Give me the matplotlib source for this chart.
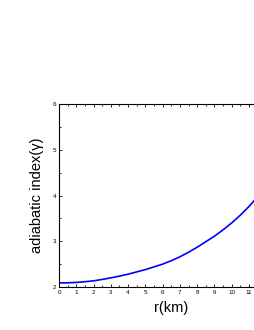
import matplotlib.pyplot as plt
from matplotlib.ticker import MultipleLocator

plt.rcParams['font.family'] = ['Liberation Sans', 'DejaVu Sans']

# values
r_km = [0, 0.5, 1, 1.5, 2, 2.5, 3, 3.5, 4, 4.5, 5, 5.5, 6, 6.5, 7, 7.5,
        8, 8.5, 9, 9.5, 10, 10.5, 11, 11.4]
gamma = [2.088, 2.092, 2.100, 2.115, 2.135, 2.165, 2.200, 2.238, 2.280,
         2.330, 2.380, 2.440, 2.500, 2.575, 2.660, 2.760, 2.870, 2.990,
         3.110, 3.250, 3.400, 3.570, 3.760, 3.930]

fig = plt.figure(figsize=(2.55, 3.3), dpi=100)
# axes run past the right edge of the picture, as in the cropped original
ax = fig.add_axes([0.2314, 0.1303, 0.772, 0.5545])

ax.plot(r_km, gamma, color="#0000ff", linewidth=1.2)

ax.set_xlim(0, 11.4)
ax.set_ylim(2, 6)
ax.xaxis.set_major_locator(MultipleLocator(1))
ax.xaxis.set_minor_locator(MultipleLocator(0.5))
ax.yaxis.set_major_locator(MultipleLocator(1))
ax.yaxis.set_minor_locator(MultipleLocator(0.5))
ax.tick_params(which="both", direction="in", top=True, right=False,
               labelsize=4.5, width=0.6, pad=2)
ax.tick_params(which="major", length=2.5)
ax.tick_params(which="minor", length=1.5)
for side in ax.spines.values():
    side.set_linewidth(0.8)

ax.set_xlabel("r(km)", fontsize=10.5)
ax.xaxis.set_label_coords(0.569, -0.075)
ax.set_ylabel("adiabatic index(\u03b3)", fontsize=10.5, labelpad=6)

fig.savefig("out.png", dpi=100)
